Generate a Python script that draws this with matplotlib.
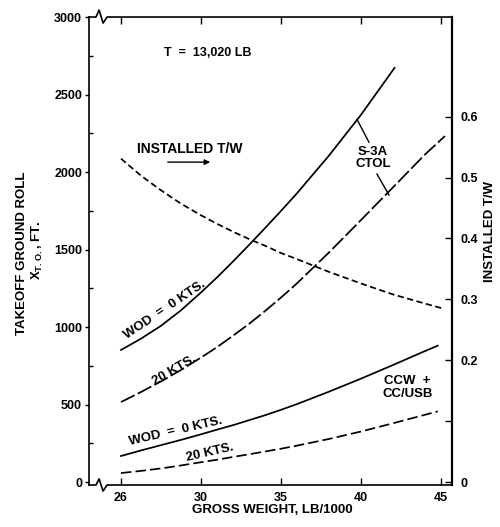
import matplotlib
matplotlib.use("Agg")
import matplotlib.pyplot as plt
import matplotlib.transforms as mtransforms
import numpy as np

plt.rcParams['font.family'] = ['Liberation Sans', 'DejaVu Sans']
plt.rcParams['font.weight'] = 'bold'
plt.rcParams['lines.scale_dashes'] = False
plt.rcParams['mathtext.fontset'] = 'custom'
plt.rcParams['mathtext.rm'] = 'Liberation Sans:bold'
plt.rcParams['mathtext.bf'] = 'Liberation Sans:bold'

# gross weight (lb/1000) and takeoff ground roll (ft)
ctol_w0_x = [26, 27, 28, 29, 30, 31, 32, 33, 34, 35, 36, 38, 40, 42.1]
ctol_w0_y = [852, 925, 1008, 1108, 1223, 1320, 1423, 1529, 1638, 1749, 1863, 2106, 2369, 2672]
ctol_w20_x = [26, 27, 28, 29, 30, 31, 32, 33, 34, 35, 36, 38, 40, 42, 44, 45.25]
ctol_w20_y = [516, 581, 649, 723, 803, 870, 944, 1020, 1103, 1190, 1282, 1481, 1690, 1901, 2113, 2232]
ccw_w0_x = [26, 27, 28, 29, 30, 31, 32, 33, 34, 35, 36, 38, 40, 42, 44, 44.8]
ccw_w0_y = [168, 204, 238, 272, 308, 338, 367, 399, 431, 466, 503, 583, 667, 755, 845, 880]
ccw_w20_x = [26, 27, 28, 29, 30, 31, 32, 33, 34, 35, 36, 38, 40, 42, 44, 44.8]
ccw_w20_y = [58, 72, 88, 107, 128, 144, 162, 179, 197, 215, 235, 278, 326, 379, 434, 456]
# installed thrust/weight (right axis)
tw_x = [26, 27, 28, 29, 30, 31, 32, 33, 34, 35, 36, 38, 40, 42, 44, 45.1]
tw_y = [0.531, 0.503, 0.479, 0.457, 0.438, 0.424, 0.411, 0.399, 0.388, 0.376,
        0.366, 0.345, 0.326, 0.308, 0.293, 0.285]

xticks = [26, 30, 35, 40, 45]
yticks = [0, 500, 1000, 1500, 2000, 2500, 3000]
tw_ticks = [0, 0.1, 0.2, 0.3, 0.4, 0.5, 0.6]
tw_labels = ['0', '', '0.2', '0.3', '0.4', '0.5', '0.6']


def pos(x):
    # broken x axis: 26..30 is squeezed so that 26 sits where 25 would be
    x = np.asarray(x, dtype=float)
    return np.where(x >= 30, x, 30 - (30 - x) * 1.25)


fig = plt.figure(figsize=(5, 5.27), dpi=100)
ax = fig.add_axes([0.178, 0.0797, 0.726, 0.888])
ax.set_xlim(23.0, 45.69)
ax.set_ylim(-19, 3000)

lw = 1.25
ax.plot(pos(ctol_w0_x), ctol_w0_y, color='k', lw=lw)
ax.plot(pos(ctol_w20_x), ctol_w20_y, color='k', lw=lw, linestyle=(0, (11, 2.5)))
ax.plot(pos(ccw_w0_x), ccw_w0_y, color='k', lw=lw)
ax.plot(pos(ccw_w20_x), ccw_w20_y, color='k', lw=lw, linestyle=(0, (7.5, 3)))

ax2 = ax.twinx()
ax2.set_ylim(-0.0049, 0.7635)
ax2.plot(pos(tw_x), tw_y, color='k', lw=lw, linestyle=(0, (4.5, 2.5)))

# spines: top and bottom drawn by hand with break marks
for a in (ax, ax2):
    a.spines['top'].set_visible(False)
    a.spines['bottom'].set_visible(False)
ax.spines['right'].set_visible(False)
ax2.spines['left'].set_visible(False)
ax.spines['left'].set_linewidth(1.2)
ax2.spines['right'].set_linewidth(1.6)

tr = mtransforms.blended_transform_factory(ax.transData, ax.transAxes)
zx = [23.0, 23.44, 23.63, 23.88, 24.13, 45.69]
ax.plot(zx, [0, 0, 0.013, -0.013, 0, 0], color='k', lw=1.2, transform=tr, clip_on=False)
ax.plot(zx, [1, 1, 1.015, 0.987, 1, 1], color='k', lw=1.2, transform=tr, clip_on=False)

ax.set_xticks(pos(xticks))
ax.set_xticklabels([str(v) for v in xticks], fontsize=9, fontweight='bold')
ax.tick_params(axis='x', direction='in', length=5, width=1, top=True, pad=5)

ax.set_yticks(yticks)
ax.set_yticklabels([str(v) for v in yticks], fontsize=9, fontweight='bold')
ax.set_yticks(np.arange(250, 3000, 500), minor=True)
ax.tick_params(axis='y', which='major', direction='out', length=3, width=1, pad=2)
ax.tick_params(axis='y', which='minor', direction='in', length=3, width=1)

ax2.set_yticks(tw_ticks)
ax2.set_yticklabels(tw_labels, fontsize=9, fontweight='bold')
ax2.tick_params(axis='y', direction='in', length=5, width=1, pad=6)

# annotations
ax.text(30.44, 2769, 'T  =  13,020 LB', fontsize=9, ha='center', va='center')
ax.text(29.31, 2147, 'INSTALLED T/W', fontsize=10, ha='center', va='center')
ax.annotate('', xy=(30.75, 2064), xytext=(27.75, 2064),
            arrowprops=dict(arrowstyle='-|>', lw=1, color='k', mutation_scale=8))
ax.text(40.75, 2090, 'S-3A\nCTOL', fontsize=9.5, ha='center', va='center', linespacing=1.0)
ax.plot([39.75, 40.5], [2340, 2192], color='k', lw=1)
ax.plot([41.0, 41.75], [1987, 1852], color='k', lw=1)
ax.text(27.75, 1109, 'WOD  =  0 KTS.', fontsize=9.5, ha='center', va='center',
        rotation=34, rotation_mode='anchor')
ax.text(28.31, 724, '20 KTS.', fontsize=9.5, ha='center', va='center',
        rotation=30, rotation_mode='anchor')
ax.text(28.44, 330, 'WOD  =  0 KTS.', fontsize=9.5, ha='center', va='center',
        rotation=13, rotation_mode='anchor')
ax.text(30.56, 190, '20 KTS.', fontsize=9.5, ha='center', va='center',
        rotation=13, rotation_mode='anchor')
ax.text(42.9, 609, 'CCW  +\nCC/USB', fontsize=9.5, ha='center', va='center', linespacing=1.1)

fig.text(0.044, 0.52, 'TAKEOFF GROUND ROLL', rotation=90, fontsize=9.5,
         ha='center', va='center')
fig.text(0.074, 0.525, r'X$_{\mathbf{T.O.}}$, FT.', rotation=90, fontsize=9.5,
         ha='center', va='center')
fig.text(0.98, 0.56, 'INSTALLED T/W', rotation=90, fontsize=9.5,
         ha='center', va='center')
fig.text(0.544, 0.032, 'GROSS WEIGHT, LB/1000', fontsize=9.5, ha='center', va='center')

fig.savefig('out.png', dpi=100)
